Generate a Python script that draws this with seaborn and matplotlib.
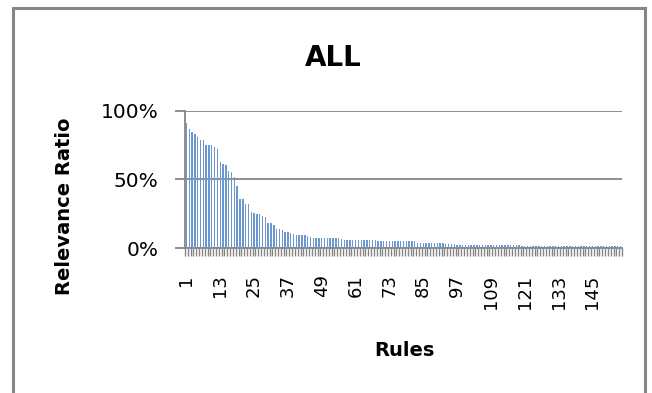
import matplotlib
matplotlib.use("Agg")
import matplotlib.pyplot as plt
import seaborn as sns
import pandas as pd
from matplotlib.patches import Rectangle
from matplotlib.ticker import FuncFormatter

# relevance ratio (%) per rule, sorted descending
ratio = [
    91, 87, 85, 83.5, 81, 79, 79, 75, 75, 75, 74, 72.5, 63, 61, 60.5,
    56.5, 55.5, 52, 45, 36, 36, 32, 32, 26.5, 25.5,
    25, 24.5, 23.5, 22.5, 18, 18, 17, 14, 14, 13, 12, 12, 11, 10, 9.5,
    9.5, 9.5, 9.5, 8.8, 8.3,
    7.5, 7, 7, 7, 7, 7, 7, 7, 7, 7, 6.5,
    6, 6, 6, 6, 6, 6, 6, 6, 6, 6, 6, 6,
    5, 5, 5, 5, 5, 5, 5, 5, 5, 5, 5, 5, 5, 5,
    4, 4, 4, 4, 4, 4, 4, 4, 4, 4,
    3.2, 3.2, 3.2, 3.2,
    2, 2, 2, 2, 2, 2, 2, 2, 2, 2, 2, 2, 2, 2, 2, 2, 2, 2, 2, 2, 2, 2, 2,
    1.2, 1.2, 1.2, 1.2, 1.2, 1.2, 1.2, 1.2, 1.2, 1.2, 1.2, 1.2,
    1.2, 1.2, 1.2, 1.2, 1.2, 1.2, 1.2, 1.2, 1.2, 1.2, 1.2, 1.2,
    1.2, 1.2, 1.2, 1.2, 1.2, 1.2, 1.2, 1.2, 1.2, 1.2, 1.2, 1.2,
]
rules = list(range(1, len(ratio) + 1))
tick_labels = [str(r) for r in rules[::12]]

df = pd.DataFrame({"rule": rules, "ratio": ratio})

sns.set_style("white")
plt.rcParams["font.family"] = ["DejaVu Sans"]
plt.rcParams["text.color"] = "black"
plt.rcParams["xtick.labelcolor"] = "black"
plt.rcParams["ytick.labelcolor"] = "black"

grey = "#868686"
fig = plt.figure(figsize=(6.52, 3.93), dpi=100)
ax = fig.add_axes([185 / 652, 1 - 248 / 393, 437 / 652, 137 / 393])

sns.barplot(data=df, x="rule", y="ratio", color="#6d97cf", width=0.5,
            saturation=1, linewidth=0, ax=ax, zorder=3)

ax.set_xlim(-0.5, len(ratio) - 0.5)
ax.set_ylim(0, 100)
ax.set_yticks([0, 50, 100])
ax.yaxis.set_major_formatter(FuncFormatter(lambda v, _: f"{v:.0f}%"))
ax.set_xticks(list(range(0, len(ratio), 12)))
ax.set_xticklabels(tick_labels, rotation=90, fontsize=13)
ax.set_xticks([i - 0.5 for i in range(len(ratio) + 1)], minor=True)
ax.tick_params(axis="x", which="major", length=0, pad=19)
ax.tick_params(axis="x", which="minor", length=6, width=1, color=grey,
               direction="out", bottom=True)
ax.tick_params(axis="y", length=7, width=1.3, color=grey, pad=12,
               labelsize=14.5, left=True)
ax.set_xlabel("")
ax.set_ylabel("")

ax.grid(axis="y", color=grey, linewidth=1.3, zorder=0)
for side in ["top", "right"]:
    ax.spines[side].set_visible(False)
for side in ["left", "bottom"]:
    ax.spines[side].set_color(grey)
    ax.spines[side].set_linewidth(1.3)

fig.text(333 / 652, 1 - 58 / 393, "ALL", fontsize=20, fontweight="bold",
         ha="center", va="center")
fig.text(404 / 652, 1 - 350 / 393, "Rules", fontsize=14, fontweight="bold",
         ha="center", va="center")
fig.text(65 / 652, 1 - 206 / 393, "Relevance Ratio", fontsize=14,
         fontweight="bold", rotation=90, ha="center", va="center")

# outer chart frame
fig.patches.append(Rectangle((13 / 652, -0.1), (645 - 13) / 652, 1.1 - 8 / 393,
                             transform=fig.transFigure, fill=False,
                             edgecolor=grey, linewidth=2.2))

fig.savefig("out.png", dpi=100)
